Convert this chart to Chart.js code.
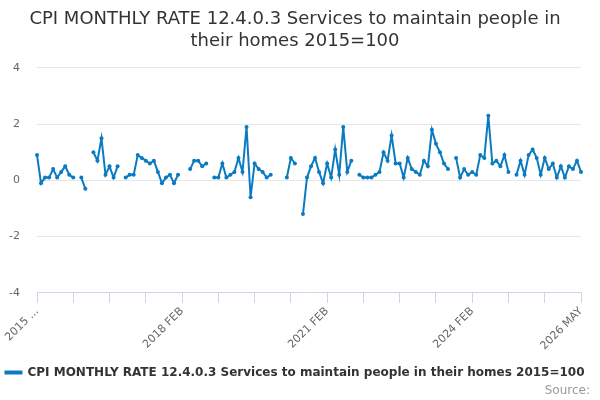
<!DOCTYPE html>
<html>
<head>
<meta charset="utf-8">
<script src="https://cdn.jsdelivr.net/npm/chart.js@4.4.1/dist/chart.umd.min.js"></script>
<style>
  html, body { margin: 0; padding: 0; background: #fff; }
  #wrap { width: 600px; height: 400px; }
</style>
</head>
<body>
<div id="wrap"><canvas id="cpi"></canvas></div>
<script>
// months of the series, 2015 FEB .. 2026 MAY
var monthNames = ["JAN", "FEB", "MAR", "APR", "MAY", "JUN", "JUL", "AUG", "SEP", "OCT", "NOV", "DEC"];
var firstYear = 2015;

// monthly rate (%), null where the source has no value
var rateValues = [
  0.9, -0.1, 0.1, 0.1, 0.4, 0.1, 0.3, 0.5, 0.2, 0.1, null, 0.1,
  -0.3, null, 1.0, 0.7, 1.5, 0.2, 0.5, 0.1, 0.5, null, 0.1, 0.2,
  0.2, 0.9, 0.8, 0.7, 0.6, 0.7, 0.3, -0.1, 0.1, 0.2, -0.1, 0.2,
  null, null, 0.4, 0.7, 0.7, 0.5, 0.6, null, 0.1, 0.1, 0.6, 0.1,
  0.2, 0.3, 0.8, 0.3, 1.9, -0.6, 0.6, 0.4, 0.3, 0.1, 0.2, null,
  null, null, 0.1, 0.8, 0.6, null, -1.2, 0.1, 0.5, 0.8, 0.3, -0.1,
  0.6, 0.1, 1.1, 0.2, 1.9, 0.3, 0.7, null, 0.2, 0.1, 0.1, 0.1,
  0.2, 0.3, 1.0, 0.7, 1.6, 0.6, 0.6, 0.1, 0.8, 0.4, 0.3, 0.2,
  0.7, 0.5, 1.8, 1.3, 1.0, 0.6, 0.4, null, 0.8, 0.1, 0.4, 0.2,
  0.3, 0.2, 0.9, 0.8, 2.3, 0.6, 0.7, 0.5, 0.9, 0.3, null, 0.2,
  0.7, 0.2, 0.9, 1.1, 0.8, 0.2, 0.8, 0.4, 0.6, 0.1, 0.5, 0.1,
  0.5, 0.4, 0.7, 0.3
];

// categories that carry a label on the x axis, and what is shown there
var labelledMonths = ["2015 FEB", "2018 FEB", "2021 FEB", "2024 FEB", "2026 MAY"];
var shownText = ["2015 ...", "2018 FEB", "2021 FEB", "2024 FEB", "2026 MAY"];
var yTicks = [-4, -2, 0, 2, 4];

var seriesName = "CPI MONTHLY RATE 12.4.0.3 Services to maintain people in their homes 2015=100";

var months = [];
for (var i = 0; i < rateValues.length; i++) {
    var m = 1 + i; // start at FEB
    months.push((firstYear + Math.floor(m / 12)) + " " + monthNames[m % 12]);
}

var font = "'DejaVu Sans', sans-serif";
var lineColour = "#0b7bc1";

function makeChart() {
    var ctx = document.getElementById("cpi");

    var data = {
        labels: months,
        datasets: [{
            label: seriesName,
            data: rateValues,
            borderColor: lineColour,
            backgroundColor: lineColour,
            borderWidth: 2,
            pointRadius: 2,
            pointHoverRadius: 4,
            pointBorderWidth: 0,
            pointBackgroundColor: lineColour,
            spanGaps: false,
            tension: 0
        }]
    };

    var options = {
        responsive: true,
        maintainAspectRatio: false,
        animation: false,
        layout: { padding: { left: 0, right: 10, top: 4, bottom: 0 } },
        plugins: {
            title: {
                display: true,
                text: ["CPI MONTHLY RATE 12.4.0.3 Services to maintain people in", "their homes 2015=100"],
                color: "#333333",
                font: { family: font, size: 18, weight: "normal", lineHeight: 1.22 },
                padding: { top: 4, bottom: 16 }
            },
            subtitle: {
                display: true,
                position: "bottom",
                align: "end",
                text: "Source:",
                color: "#999999",
                font: { family: font, size: 12, weight: "normal" },
                padding: { top: -5, bottom: 2 }
            },
            legend: {
                display: true,
                position: "bottom",
                labels: {
                    boxWidth: 16,
                    boxHeight: 2,
                    color: "#333333",
                    font: { family: font, size: 12, weight: "bold" },
                    padding: 6
                }
            },
            tooltip: { enabled: false }
        },
        scales: {
            x: {
                type: "category",
                offset: false,
                border: { display: true, color: "#ccd6eb", width: 1 },
                grid: {
                    drawOnChartArea: false,
                    drawTicks: true,
                    tickLength: 10,
                    tickColor: function (c) { return c.index % 9 === 0 ? "#ccd6eb" : "rgba(0,0,0,0)"; }
                },
                afterFit: function (s) { s.height += 6; },
                ticks: {
                    autoSkip: false,
                    minRotation: 45,
                    maxRotation: 45,
                    padding: 2,
                    color: "#666666",
                    font: { family: font, size: 11 },
                    callback: function (value, index) {
                        var k = labelledMonths.indexOf(months[index]);
                        return k >= 0 ? shownText[k] : "";
                    }
                }
            },
            y: {
                min: yTicks[0],
                max: yTicks[yTicks.length - 1],
                border: { display: false },
                grid: { color: "#e6e6e6", drawTicks: false },
                afterBuildTicks: function (s) {
                    s.ticks = yTicks.map(function (v) { return { value: v }; });
                },
                afterFit: function (s) { s.width = 37; },
                ticks: {
                    color: "#666666",
                    padding: 17,
                    font: { family: font, size: 11 }
                }
            },
            // empty axis on the right, only keeps the plot clear of the edge
            yRight: {
                position: "right",
                min: yTicks[0],
                max: yTicks[yTicks.length - 1],
                border: { display: false },
                grid: { display: false },
                ticks: { display: false },
                afterFit: function (s) { s.width = 9; }
            }
        }
    };

    new Chart(ctx, { type: "line", data: data, options: options });
}

document.addEventListener("DOMContentLoaded", makeChart);
</script>
</body>
</html>
